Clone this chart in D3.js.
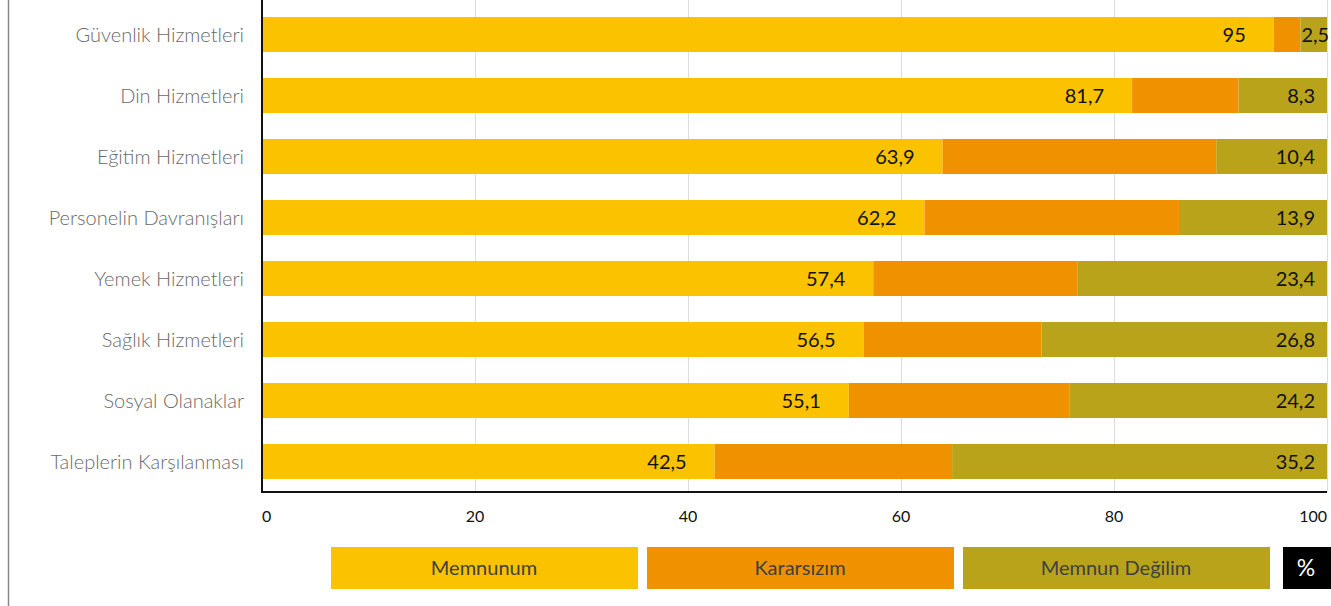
<!DOCTYPE html>
<html>
<head>
<meta charset="utf-8">
<script src="https://cdn.jsdelivr.net/npm/d3@7"></script>
<style>
  body { margin: 0; background: #fff; }
  text { font-family: Lato, "Open Sans", sans-serif; }
</style>
</head>
<body>
<svg id="chart" width="1331" height="606"></svg>
<script>
// values
const categories = ['Güvenlik Hizmetleri', 'Din Hizmetleri', 'Eğitim Hizmetleri', 'Personelin Davranışları',
  'Yemek Hizmetleri', 'Sağlık Hizmetleri', 'Sosyal Olanaklar', 'Taleplerin Karşılanması'];
const memnunum = [95, 81.7, 63.9, 62.2, 57.4, 56.5, 55.1, 42.5];
const kararsizim = [2.5, 10, 25.7, 23.9, 19.2, 16.7, 20.7, 22.3];
const memnunDegilim = [2.5, 8.3, 10.4, 13.9, 23.4, 26.8, 24.2, 35.2];
const seriesNames = ['Memnunum', 'Kararsızım', 'Memnun Değilim'];
const colors = ['#fbc200', '#f09200', '#b8a31b'];
const xTicks = [0, 20, 40, 60, 80, 100];

const svg = d3.select('#chart');
const fmt = d => String(d).replace('.', ',');

const x = d3.scaleLinear().domain([0, 100]).range([262, 1327]);
const y = d3.scaleBand().domain(categories).range([4, 492])
  .paddingInner(0.426).paddingOuter(0.213);

// left frame line
svg.append('line')
  .attr('x1', 8.5).attr('x2', 8.5).attr('y1', 0).attr('y2', 606)
  .attr('stroke', '#888').attr('stroke-width', 1.5);

// gridlines
svg.append('g').selectAll('line').data(xTicks.filter(d => d > 0))
  .join('line')
  .attr('x1', d => Math.round(x(d)) + 0.5).attr('x2', d => Math.round(x(d)) + 0.5)
  .attr('y1', 0).attr('y2', 492)
  .attr('stroke', '#dcdcdc').attr('stroke-width', 1);

const rows = categories.map((c, i) => ({
  cat: c,
  vals: [memnunum[i], kararsizim[i], memnunDegilim[i]]
}));

const stack = d3.stack().keys([0, 1, 2]).value((d, k) => d.vals[k]);
const layers = stack(rows);

svg.append('g').selectAll('g').data(layers)
  .join('g')
  .attr('fill', (d, i) => colors[i])
  .selectAll('rect').data(d => d)
  .join('rect')
  .attr('x', d => x(d[0]))
  .attr('width', d => x(d[1]) - x(d[0]))
  .attr('y', d => y(d.data.cat))
  .attr('height', y.bandwidth());

// value labels: first and last segment
const labels = svg.append('g').attr('font-size', 20).attr('fill', '#111');
labels.selectAll('text.m').data(layers[0])
  .join('text').attr('class', 'm')
  .attr('x', d => x(d[1]) - 28)
  .attr('y', d => y(d.data.cat) + y.bandwidth() / 2)
  .attr('dy', '0.36em')
  .attr('text-anchor', 'end')
  .text(d => fmt(d.data.vals[0]));
labels.selectAll('text.d').data(layers[2])
  .join('text').attr('class', 'd')
  .attr('x', d => (x(d[1]) - x(d[0]) < 40) ? x(d[0]) + 1 : x(100) - 12)
  .attr('y', d => y(d.data.cat) + y.bandwidth() / 2)
  .attr('dy', '0.36em')
  .attr('text-anchor', d => (x(d[1]) - x(d[0]) < 40) ? 'start' : 'end')
  .text(d => fmt(d.data.vals[2]));

// category labels
svg.append('g').selectAll('text').data(categories)
  .join('text')
  .attr('x', 244)
  .attr('y', d => y(d) + y.bandwidth() / 2)
  .attr('dy', '0.36em')
  .attr('text-anchor', 'end')
  .attr('font-size', 20)
  .attr('font-weight', 300)
  .attr('fill', '#6a6a6a')
  .text(d => d);

// axes lines
svg.append('line')
  .attr('x1', 262).attr('x2', 262).attr('y1', 0).attr('y2', 493)
  .attr('stroke', '#111').attr('stroke-width', 2);
svg.append('line')
  .attr('x1', 261).attr('x2', x(100)).attr('y1', 492).attr('y2', 492)
  .attr('stroke', '#111').attr('stroke-width', 2);

// tick labels
svg.append('g').selectAll('text').data(xTicks)
  .join('text')
  .attr('x', d => x(d))
  .attr('y', 522)
  .attr('text-anchor', d => d === 0 ? 'start' : d === 100 ? 'end' : 'middle')
  .attr('font-size', 16)
  .attr('fill', '#111')
  .text(d => d);

// legend
const legendX = [331, 647, 963];
const leg = svg.append('g').selectAll('g').data(seriesNames)
  .join('g')
  .attr('transform', (d, i) => `translate(${legendX[i]},547)`);
leg.append('rect')
  .attr('width', 307).attr('height', 42)
  .attr('fill', (d, i) => colors[i]);
leg.append('text')
  .attr('x', 153).attr('y', 21).attr('dy', '0.36em')
  .attr('text-anchor', 'middle')
  .attr('font-size', 20)
  .attr('fill', '#404040')
  .text(d => d);

svg.append('rect')
  .attr('x', 1283).attr('y', 547).attr('width', 48).attr('height', 42)
  .attr('fill', '#000');
svg.append('text')
  .attr('x', 1306).attr('y', 568).attr('dy', '0.36em')
  .attr('text-anchor', 'middle')
  .attr('font-size', 23)
  .attr('fill', '#fff')
  .text('%');
</script>
</body>
</html>
